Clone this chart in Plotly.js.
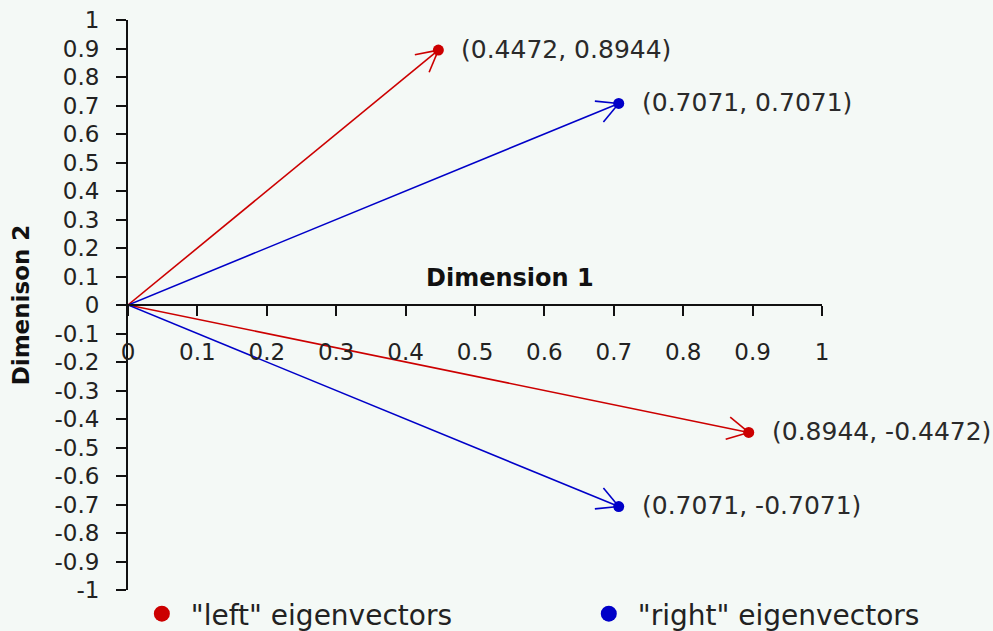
<!DOCTYPE html>
<html>
<head>
<meta charset="utf-8">
<script src="https://cdn.plot.ly/plotly-3.0.1.min.js"></script>
<style>
  html, body { margin: 0; padding: 0; background: #f4f9f6; }
  #chart { width: 993px; height: 631px; }
</style>
</head>
<body>
<div id="chart"></div>
<script>
// eigenvector end points
const leftX = [0.4472, 0.8944];
const leftY = [0.8944, -0.4472];
const rightX = [0.7071, 0.7071];
const rightY = [0.7071, -0.7071];

const seriesNames = ['"left" eigenvectors', '"right" eigenvectors'];

// axis ticks
const xTickVals = [0, 0.1, 0.2, 0.3, 0.4, 0.5, 0.6, 0.7, 0.8, 0.9, 1];
const xTickText = ['0', '0.1', '0.2', '0.3', '0.4', '0.5', '0.6', '0.7', '0.8', '0.9', '1'];
const yTickVals = [-1, -0.9, -0.8, -0.7, -0.6, -0.5, -0.4, -0.3, -0.2, -0.1, 0,
                   0.1, 0.2, 0.3, 0.4, 0.5, 0.6, 0.7, 0.8, 0.9, 1];
const yTickText = ['-1', '-0.9', '-0.8', '-0.7', '-0.6', '-0.5', '-0.4', '-0.3', '-0.2', '-0.1', '0',
                   '0.1', '0.2', '0.3', '0.4', '0.5', '0.6', '0.7', '0.8', '0.9', '1'];

const RED = '#cc0000';
const BLUE = '#0000c8';
const FONT = 'DejaVu Sans, Arial, sans-serif';

const W = 993, H = 631;
const MARGIN = {l: 128, r: 171, t: 20, b: 41};
const X_RANGE = [0, 1];
const Y_RANGE = [-1, 1];

// pixels per data unit, for drawing open arrow heads
const pxX = (W - MARGIN.l - MARGIN.r) / (X_RANGE[1] - X_RANGE[0]);
const pxY = (H - MARGIN.t - MARGIN.b) / (Y_RANGE[1] - Y_RANGE[0]);
const HEAD_LEN = 24;               // px
const HEAD_ANGLE = 28 * Math.PI / 180;

// shaft: origin -> end point, head: two short strokes at the tip
function vectorTraces(xs, ys, color) {
    const sx = [], sy = [], hx = [], hy = [];
    xs.forEach((vx, i) => {
        const vy = ys[i];
        sx.push(0, vx, null);
        sy.push(0, vy, null);
        const ang = Math.atan2(vy * pxY, vx * pxX);
        [ang + Math.PI - HEAD_ANGLE, ang + Math.PI + HEAD_ANGLE].forEach(a => {
            hx.push(vx + HEAD_LEN * Math.cos(a) / pxX, vx, null);
            hy.push(vy + HEAD_LEN * Math.sin(a) / pxY, vy, null);
        });
    });
    return [
        {x: sx, y: sy, type: 'scatter', mode: 'lines',
         line: {color: color, width: 1.6}, showlegend: false, hoverinfo: 'skip'},
        {x: hx, y: hy, type: 'scatter', mode: 'lines',
         line: {color: color, width: 1.6}, showlegend: false, hoverinfo: 'skip'}
    ];
}

const traces = [
    ...vectorTraces(leftX, leftY, RED),
    ...vectorTraces(rightX, rightY, BLUE),
    {
        x: leftX, y: leftY,
        type: 'scatter', mode: 'markers',
        marker: {color: RED, size: 11},
        showlegend: false
    },
    {
        x: rightX, y: rightY,
        type: 'scatter', mode: 'markers',
        marker: {color: BLUE, size: 11},
        showlegend: false
    },
    // legend entries (bigger dots than the plotted ones)
    {
        x: [null], y: [null],
        type: 'scatter', mode: 'markers',
        marker: {color: RED, size: 16},
        name: seriesNames[0], legend: 'legend', showlegend: true
    },
    {
        x: [null], y: [null],
        type: 'scatter', mode: 'markers',
        marker: {color: BLUE, size: 16},
        name: seriesNames[1], legend: 'legend2', showlegend: true
    }
];

// coordinate labels next to end points
const annotations = [];
[[leftX, leftY], [rightX, rightY]].forEach(([xs, ys]) => {
    xs.forEach((vx, i) => {
        const vy = ys[i];
        annotations.push({
            x: vx, y: vy, xref: 'x', yref: 'y',
            text: `(${vx.toFixed(4)}, ${vy.toFixed(4)})`,
            showarrow: false, xanchor: 'left', yanchor: 'middle',
            xshift: 21, yshift: 1,
            font: {family: FONT, size: 25, color: '#2a2a2a'}
        });
    });
});

annotations.push({
    text: '<b>Dimension 1</b>',
    xref: 'paper', yref: 'paper', x: 0.55, y: 0.547,
    showarrow: false, xanchor: 'center', yanchor: 'middle',
    font: {family: FONT, size: 24, color: '#111'}
});

const legendBase = {
    orientation: 'h',
    xanchor: 'left',
    y: -0.042, yanchor: 'middle',
    bgcolor: 'rgba(0,0,0,0)',
    itemsizing: 'trace',
    itemwidth: 48,
    font: {family: FONT, size: 28, color: '#222'}
};

const layout = {
    width: W, height: H,
    margin: {...MARGIN, autoexpand: false},
    paper_bgcolor: '#f4f9f6',
    plot_bgcolor: '#f4f9f6',
    font: {family: FONT, size: 24, color: '#222'},
    showlegend: true,
    xaxis: {
        range: X_RANGE,
        anchor: 'free', position: 0.5,
        tickvals: xTickVals, ticktext: xTickText,
        ticks: 'outside', ticklen: 10, tickwidth: 2, tickcolor: '#111',
        ticklabelstandoff: 16,
        showline: true, linecolor: '#111', linewidth: 2,
        showgrid: false, zeroline: false,
        tickfont: {family: FONT, size: 23, color: '#222'}
    },
    yaxis: {
        range: Y_RANGE,
        tickvals: yTickVals, ticktext: yTickText,
        ticks: 'outside', ticklen: 10, tickwidth: 2, tickcolor: '#111',
        ticklabelstandoff: 12,
        showline: true, linecolor: '#111', linewidth: 2,
        showgrid: false, zeroline: false,
        tickfont: {family: FONT, size: 23, color: '#222'},
        title: {
            text: '<b>Dimenison 2</b>',
            standoff: 18,
            font: {family: FONT, size: 23, color: '#111'}
        }
    },
    legend: {...legendBase, x: 0.007},
    legend2: {...legendBase, x: 0.651},
    annotations: annotations
};

Plotly.newPlot('chart', traces, layout, {displayModeBar: false, staticPlot: true});
</script>
</body>
</html>
